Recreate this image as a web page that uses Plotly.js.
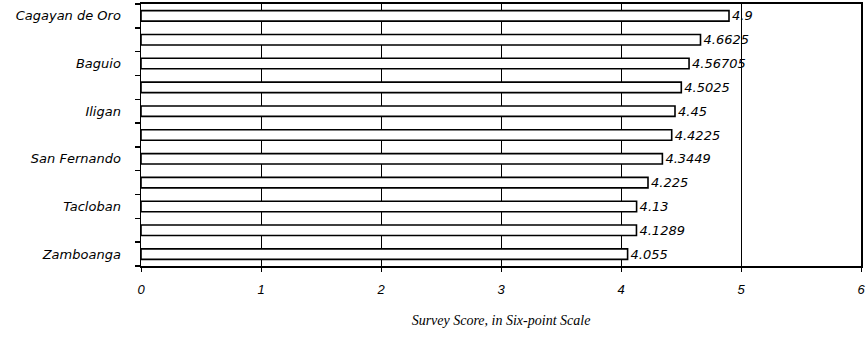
<!DOCTYPE html>
<html><head><meta charset="utf-8">
<script src="https://cdn.plot.ly/plotly-3.0.1.min.js"></script>
<style>html,body{margin:0;padding:0;background:#fff;}#chart{width:866px;height:341px;}</style>
</head><body><div id="chart"></div>
<script>
const positions = [0,1,2,3,4,5,6,7,8,9,10];
const scores = [4.9, 4.6625, 4.56705, 4.5025, 4.45, 4.4225, 4.3449, 4.225, 4.13, 4.1289, 4.055];
const scoreLabels = ["4.9","4.6625","4.56705","4.5025","4.45","4.4225","4.3449","4.225","4.13","4.1289","4.055"];
const cityTickPositions = [0,2,4,6,8,10];
const cityNames = ["Cagayan de Oro","Baguio","Iligan","San Fernando","Tacloban","Zamboanga"];
const xTicks = [0,1,2,3,4,5,6];

const sansItalic = {family:"DejaVu Sans, sans-serif", size:13, color:"#000", style:"italic"};
const rowLabels = positions.map(p => {
  const i = cityTickPositions.indexOf(p);
  return i >= 0 ? cityNames[i] : '';
});

Plotly.newPlot('chart', [{
  type:'bar', orientation:'h',
  x: scores, y: positions,
  text: scoreLabels, textposition:'outside', cliponaxis:false, constraintext:'none',
  textfont: sansItalic,
  marker:{color:'#fff', line:{color:'#000', width:1.6}},
  hoverinfo:'none'
}], {
  width:866, height:341,
  margin:{l:141, r:5, t:4, b:75},
  paper_bgcolor:'#fff', plot_bgcolor:'#fff',
  bargap:0.56,
  showlegend:false,
  xaxis:{
    range:[0,6], tickvals:xTicks, ticktext:xTicks.map(String),
    showgrid:true, gridcolor:'#000', gridwidth:1,
    showline:true, linecolor:'#000', linewidth:2, mirror:true,
    ticks:'outside', ticklen:4, tickcolor:'#000', ticklabelstandoff:6,
    tickfont:{family:"Liberation Sans, Arial, sans-serif", size:13, color:"#000", style:"italic"},
    zeroline:false,
    title:{text:'Survey Score, in Six-point Scale', standoff:20,
      font:{family:"Liberation Serif, Times New Roman, serif", size:14, color:"#000", style:"italic"}}
  },
  yaxis:{
    type:'category', categoryorder:'array', categoryarray:positions,
    autorange:'reversed',
    tickmode:'array', tickvals:positions, ticktext:rowLabels,
    tickson:'boundaries', ticks:'outside', ticklen:5, tickcolor:'#000', tickwidth:1.5,
    showgrid:false, zeroline:false,
    showline:true, linecolor:'#000', linewidth:1.5, mirror:true,
    ticklabelstandoff:16,
    tickfont:sansItalic
  }
}, {staticPlot:true});
</script></body></html>
